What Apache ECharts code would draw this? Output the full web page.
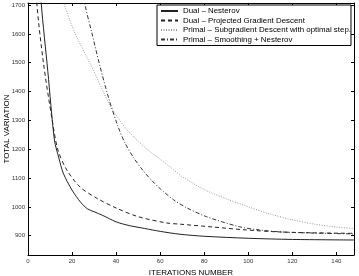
<!DOCTYPE html>
<html>
<head>
<meta charset="utf-8">
<script src="https://cdn.jsdelivr.net/npm/echarts@6/dist/echarts.min.js"></script>
<style>
  html, body { margin: 0; padding: 0; background: #fff; }
  #chart { width: 359px; height: 276px; }
</style>
</head>
<body>
<div id="chart"></div>
<script>
// iteration / total variation pairs
const dualNesterov = [
  [3, 2050], [6, 1707], [9, 1470], [12, 1232], [14, 1170], [16, 1117], [20, 1058],
  [24, 1015], [27, 993], [30, 983], [34, 970], [40, 948], [46, 935], [53, 925],
  [60, 915], [69, 905], [80, 898], [100, 891], [120, 887], [148, 885]
];
const dualProjected = [
  [2, 2000], [4, 1707], [7, 1500], [11, 1300], [13.6, 1197], [17.6, 1128],
  [23.6, 1069], [31, 1031], [40, 996], [50, 966], [63, 944], [69, 940],
  [84, 930], [99, 920], [114, 913], [129, 910], [148, 908]
];
const primalSubgradient = [
  [14, 1780], [16.3, 1707], [21.3, 1603], [29, 1485], [36, 1370], [40, 1318],
  [44, 1276], [48, 1243], [52, 1214], [56, 1188], [60, 1165], [65, 1135],
  [70, 1105], [80, 1060], [90, 1028], [100, 1000], [110, 975], [120, 955],
  [130, 940], [140, 930], [148, 925]
];
const primalSmoothing = [
  [24, 1850], [25.8, 1707], [29, 1603], [32.6, 1490], [36.7, 1375], [40.8, 1280],
  [44, 1222], [48, 1170], [52, 1128], [56, 1093], [60, 1063], [66, 1025],
  [72, 997], [81, 966], [96, 931], [105, 920], [115, 913], [130, 909], [148, 906]
];
const seriesNames = [
  'Dual – Nesterov',
  'Dual – Projected Gradient Descent',
  'Primal – Subgradient Descent with optimal step.',
  'Primal – Smoothing + Nesterov'
];
const xTicks = [0, 20, 40, 60, 80, 100, 120, 140];
const yTicks = [900, 1000, 1100, 1200, 1300, 1400, 1500, 1600, 1700];

const font = 'Liberation Sans, Arial, sans-serif';

// box axis (matlab style: ticks inside, on all four sides)
function boxAxis(extra) {
  return Object.assign({
    type: 'value',
    axisLine: { show: true, onZero: false, lineStyle: { color: '#000', width: 1 } },
    splitLine: { show: false }
  }, extra);
}

function ticks(values) {
  return { show: true, inside: true, length: 3, customValues: values, lineStyle: { color: '#000' } };
}

function line(name, data, color, type) {
  return {
    name: name,
    type: 'line',
    data: data,
    symbol: 'none',
    smooth: 0.3,
    clip: true,
    lineStyle: { color: color, width: 1, type: type },
    itemStyle: { color: color }
  };
}

const chart = echarts.init(document.getElementById('chart'));
chart.setOption({
  animation: false,
  backgroundColor: '#fff',
  grid: { left: 28, right: 5, top: 3, bottom: 21, containLabel: false, outerBoundsMode: 'none' },
  legend: {
    orient: 'vertical',
    left: 157,
    top: 5,
    itemWidth: 17,
    itemHeight: 8,
    itemGap: 1.5,
    padding: [2, 0, 2, 3],
    borderColor: '#000',
    borderWidth: 1,
    backgroundColor: '#fff',
    itemStyle: { opacity: 0 },
    textStyle: { fontFamily: font, fontSize: 7.9, color: '#000' },
    data: seriesNames
  },
  xAxis: [
    boxAxis({
      min: 0, max: 148, position: 'bottom',
      axisTick: ticks(xTicks),
      axisLabel: { fontFamily: font, fontSize: 6, color: '#333', margin: 3, customValues: xTicks },
      name: 'ITERATIONS NUMBER',
      nameLocation: 'middle',
      nameGap: 12,
      nameTextStyle: { fontFamily: font, fontSize: 8, color: '#000' }
    }),
    boxAxis({
      min: 0, max: 148, position: 'top',
      axisTick: ticks(xTicks),
      axisLabel: { show: false }
    })
  ],
  yAxis: [
    boxAxis({
      min: 833, max: 1707, position: 'left',
      axisTick: ticks(yTicks),
      axisLabel: {
        fontFamily: font, fontSize: 6, color: '#333', margin: 3, customValues: yTicks,
        formatter: v => String(v)
      },
      name: 'TOTAL VARIATION',
      nameLocation: 'middle',
      nameRotate: 90,
      nameGap: 17,
      nameMoveOverlap: false,
      nameTextStyle: { fontFamily: font, fontSize: 8, color: '#000' }
    }),
    boxAxis({
      min: 833, max: 1707, position: 'right',
      axisTick: ticks(yTicks),
      axisLabel: { show: false }
    })
  ],
  series: [
    line(seriesNames[0], dualNesterov, '#222', 'solid'),
    line(seriesNames[1], dualProjected, '#222', [4, 3]),
    line(seriesNames[2], primalSubgradient, '#999', [1, 1.5]),
    line(seriesNames[3], primalSmoothing, '#333', [4, 2, 1, 2])
  ]
});
</script>
</body>
</html>
